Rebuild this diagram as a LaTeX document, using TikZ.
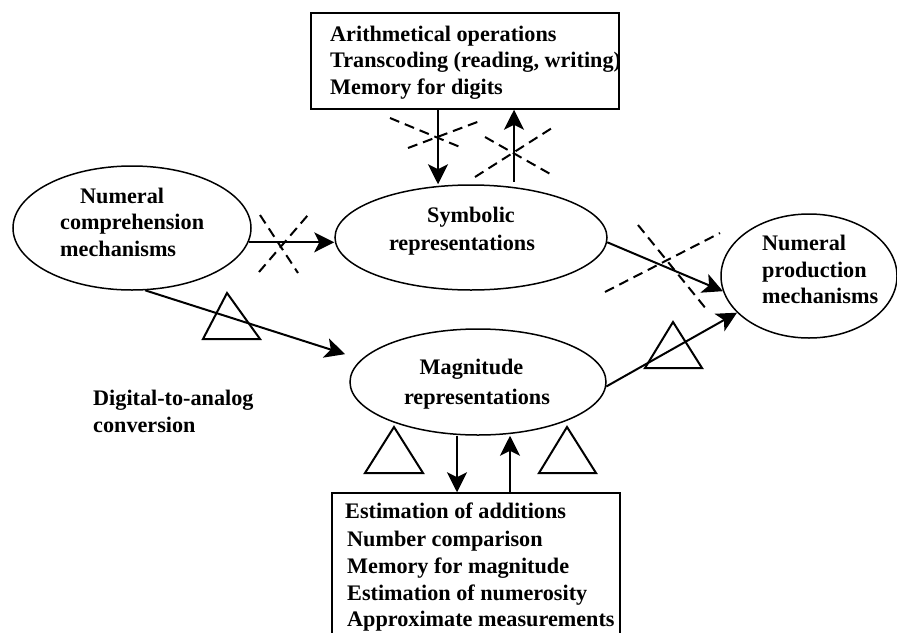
\documentclass[tikz,border=0pt]{standalone}
\usepackage{fontspec}
\setmainfont{Liberation Serif}
\usetikzlibrary{arrows.meta,shapes.geometric}
\begin{document}
\begin{tikzpicture}[x=1pt,y=-1pt,
  txt/.style={font=\fontsize{22.2}{27}\selectfont\bfseries, inner sep=0pt, anchor=base},
  txtl/.style={txt, anchor=base west},
  ell/.style={draw, ellipse, line width=1.5pt, inner sep=0pt},
  box/.style={draw, rectangle, line width=1.5pt, inner sep=0pt},
  arr/.style={line width=2pt, -{Stealth[length=20pt,width=20pt,inset=5pt]}},
  cross/.style={line width=2pt, dash pattern=on 10pt off 6pt},
  tri/.style={line width=2pt, line join=miter}]
\clip (0,0) rectangle (897,632);
\useasboundingbox (0,0) rectangle (897,632);

% shapes
\node[ell, minimum width=238pt, minimum height=124pt] (comp) at (132,228) {};
\node[ell, minimum width=272pt, minimum height=105pt] (sym) at (471,237.5) {};
\node[ell, minimum width=256pt, minimum height=106pt] (mag) at (478,382) {};
\node[ell, minimum width=176pt, minimum height=124pt] (prod) at (809,276) {};
\node[box, minimum width=308pt, minimum height=96pt] (tbox) at (465,61) {};
\node[box, minimum width=288pt, minimum height=150pt] (bbox) at (476,568) {};

% texts
\node[txtl] (t1) at (330,41) {Arithmetical operations};
\node[txtl] (t2) at (330,67) {Transcoding (reading, writing)};
\node[txtl] (t3) at (330,94) {Memory for digits};

\node[txtl] (c1) at (80,203) {Numeral};
\node[txtl] (c2) at (60,229) {comprehension};
\node[txtl] (c3) at (60,256) {mechanisms};

\node[txt] (s1) at (471,222) {Symbolic};
\node[txt] (s2) at (462,250) {representations};

\node[txt] (m1) at (471.5,374) {Magnitude};
\node[txt] (m2) at (477,404) {representations};

\node[txtl] (p1) at (762,250) {Numeral};
\node[txtl] (p2) at (762,277) {production};
\node[txtl] (p3) at (762,303) {mechanisms};

\node[txtl] (d1) at (93,405) {Digital-to-analog};
\node[txtl] (d2) at (93,432) {conversion};

\node[txtl] (b1) at (345,518) {Estimation of additions};
\node[txtl] (b2) at (347,546) {Number comparison};
\node[txtl] (b3) at (347,573) {Memory for magnitude};
\node[txtl] (b4) at (347,600) {Estimation of numerosity};
\node[txtl] (b5) at (347,626) {Approximate measurements};

% connectors
\draw[arr] (comp.-7) -- (comp.-7 -| sym.west);
\draw[arr, shorten >=17pt] (comp.-78.5) -- (mag.169.4);
\draw[arr] (sym.-2.3) -- (prod.190);
\draw[arr] (mag.-2.3) -- (prod.207.6);
\draw[arr] ([xshift=-27pt]tbox.south) -- ([xshift=-27pt]tbox.south |- sym.north);
\draw[arr, shorten <=2.5pt] ([xshift=49pt]tbox.south |- sym.north) -- ([xshift=49pt]tbox.south);
\draw[arr] ([xshift=-19pt]bbox.north |- mag.south) -- ([xshift=-19pt]bbox.north);
\draw[arr] ([xshift=34pt]bbox.north) -- ([xshift=34pt]bbox.north |- mag.south);

% dashed crosses
\draw[cross] (260,215) -- (298,273);
\draw[cross] (259,272) -- (308,215);
\draw[cross] (390,118) -- (460,147);
\draw[cross] (408,148) -- (480,121);
\draw[cross] (485,137) -- (552,175);
\draw[cross] (475,177) -- (552,128);
\draw[cross] (638,225) -- (707,310);
\draw[cross] (605,292) -- (720,233);

% triangles
\draw[tri] (227,293) -- (203,339) -- (260,339) -- cycle;
\draw[tri] (673,322) -- (645,368) -- (702,368) -- cycle;
\draw[tri] (394,427) -- (365,473) -- (423,473) -- cycle;
\draw[tri] (567,427) -- (539,473) -- (596,473) -- cycle;
\end{tikzpicture}
\end{document}
